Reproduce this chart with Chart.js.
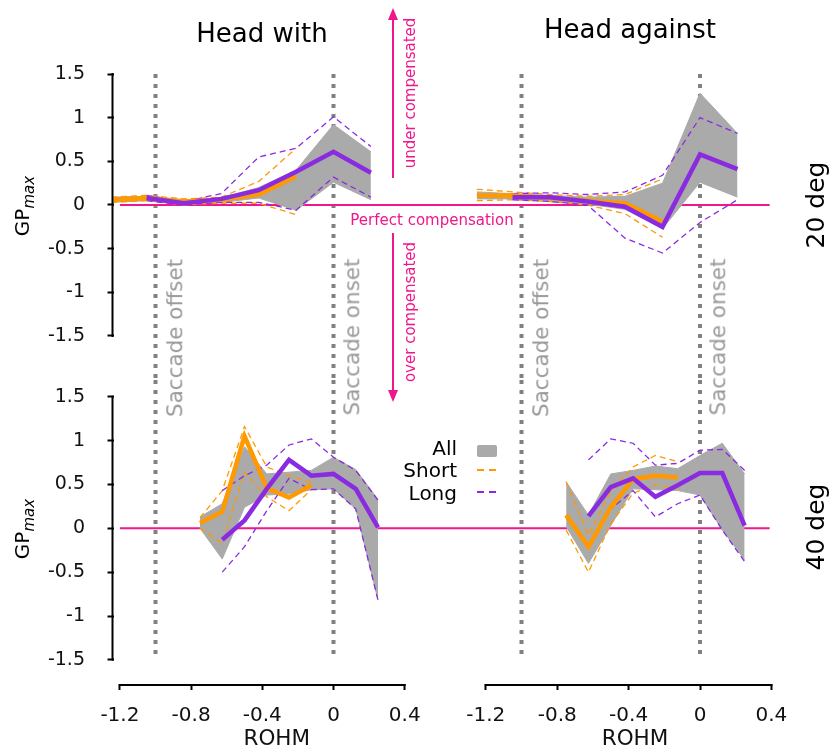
<!DOCTYPE html>
<html>
<head>
<meta charset="utf-8">
<script src="https://cdn.jsdelivr.net/npm/chart.js@4.4.0/dist/chart.umd.min.js"></script>
<style>
  body { margin: 0; background: #fff; }
  #fig { position: relative; width: 830px; height: 750px; font-family: "DejaVu Sans", sans-serif; color: #000; overflow: hidden; }
  #fig canvas { position: absolute; left: 0; top: 0; }
  .lbl { position: absolute; white-space: nowrap; line-height: 1; transform: translate(-50%, -50%); }
  .rot { transform: translate(-50%, -50%) rotate(-90deg); }
  .sac { color: #999; font-size: 21.5px; }
  .pink { color: #f0168c; font-size: 15px; }
  .leg { position: absolute; right: 373px; font-size: 20px; line-height: 20px; }
  .sw { position: absolute; left: 477px; width: 20px; }
</style>
</head>
<body>
<div id="fig">
  <canvas id="hw20" width="830" height="750"></canvas>
  <canvas id="ha20" width="830" height="750"></canvas>
  <canvas id="hw40" width="830" height="750"></canvas>
  <canvas id="ha40" width="830" height="750"></canvas>

  <div class="lbl" style="left:262px;top:33px;font-size:26px">Head with</div>
  <div class="lbl" style="left:630px;top:29px;font-size:26px">Head against</div>

  <div class="lbl rot" style="left:24px;top:206px;font-size:20px">GP<sub style="font-size:15px;font-style:italic">max</sub></div>
  <div class="lbl rot" style="left:24px;top:529px;font-size:20px">GP<sub style="font-size:15px;font-style:italic">max</sub></div>
  <div class="lbl rot" style="left:815px;top:205px;font-size:25px">20 deg</div>
  <div class="lbl rot" style="left:815px;top:527px;font-size:25px">40 deg</div>

  <div class="lbl rot sac" style="left:175px;top:338px">Saccade offset</div>
  <div class="lbl rot sac" style="left:352px;top:337px">Saccade onset</div>
  <div class="lbl rot sac" style="left:541px;top:338px">Saccade offset</div>
  <div class="lbl rot sac" style="left:718px;top:337px">Saccade onset</div>

  <div class="lbl pink" style="left:432px;top:220px">Perfect compensation</div>
  <div class="lbl rot pink" style="left:410px;top:93px">under compensated</div>
  <div class="lbl rot pink" style="left:410px;top:312px">over compensated</div>

  <div class="leg" style="top:438px">All</div>
  <div class="leg" style="top:460px">Short</div>
  <div class="leg" style="top:483px">Long</div>
  <div class="sw" style="top:445px;height:12px;background:#aaaaaa;border-radius:2px"></div>
  <div class="sw" style="top:469px;height:1.5px;background:repeating-linear-gradient(90deg,#ff9900 0 7px,transparent 7px 12px)"></div>
  <div class="sw" style="top:491px;height:1.5px;background:repeating-linear-gradient(90deg,#8a2be2 0 7px,transparent 7px 12px)"></div>
</div>

<script>
const GRAY = '#aaaaaa', ORANGE = '#ff9900', PURPLE = '#8a2be2', PINK = '#f0168c', DOT = '#808080';

const yTicks = [-1.5, -1, -0.5, 0, 0.5, 1, 1.5];
const xTicks = [-1.2, -0.8, -0.4, 0, 0.4];
const saccadeX = [-1, 0];

// bin centres (ROHM)
const xShort20 = [-1.25, -1.05, -0.84, -0.63, -0.42, -0.21];
const xLong20 = [-1.05, -0.84, -0.63, -0.42, -0.21, 0, 0.21];
const xAll20 = [-1.25, -1.05, -0.84, -0.63, -0.42, -0.21, 0, 0.21];
const xShort40 = [-0.75, -0.625, -0.5, -0.375, -0.25, -0.125];
const xLong40 = [-0.625, -0.5, -0.375, -0.25, -0.125, 0, 0.125, 0.25];
const xAll40 = [-0.75, -0.625, -0.5, -0.375, -0.25, -0.125, 0, 0.125, 0.25];

// head with, 20 deg
const hw20Short = [0.06, 0.08, 0.04, 0.06, 0.12, 0.33];
const hw20ShortHi = [0.09, 0.11, 0.07, 0.09, 0.27, 0.65];
const hw20ShortLo = [0.03, 0.05, 0.01, 0.02, 0.02, -0.11];
const hw20Long = [0.08, 0.02, 0.07, 0.17, 0.38, 0.61, 0.37];
const hw20LongHi = [0.11, 0.04, 0.13, 0.55, 0.65, 1.01, 0.67];
const hw20LongLo = [0.05, 0.0, 0.03, 0.03, -0.06, 0.32, 0.09];
const hw20AllHi = [0.09, 0.1, 0.06, 0.08, 0.2, 0.4, 0.92, 0.61];
const hw20AllLo = [0.03, 0.05, 0.0, 0.03, 0.08, -0.06, 0.26, 0.06];

// head against, 20 deg
const ha20Short = [0.11, 0.11, 0.08, 0.05, 0.02, -0.19];
const ha20ShortHi = [0.18, 0.15, 0.12, 0.1, 0.12, 0.3];
const ha20ShortLo = [0.05, 0.06, 0.04, 0.0, -0.1, -0.37];
const ha20Long = [0.09, 0.09, 0.04, -0.02, -0.25, 0.58, 0.41];
const ha20LongHi = [0.13, 0.14, 0.12, 0.15, 0.34, 1.0, 0.82];
const ha20LongLo = [0.06, 0.04, 0.0, -0.38, -0.55, -0.2, 0.06];
const ha20AllHi = [0.15, 0.13, 0.11, 0.09, 0.1, 0.25, 1.28, 0.82];
const ha20AllLo = [0.07, 0.07, 0.05, 0.01, -0.05, -0.27, 0.26, 0.09];

// head with, 40 deg
const hw40Short = [0.06, 0.19, 1.05, 0.46, 0.35, 0.49];
const hw40ShortHi = [0.12, 0.43, 1.16, 0.7, 0.6, 0.52];
const hw40ShortLo = [0.0, -0.17, 0.64, 0.36, 0.2, 0.44];
const hw40Long = [-0.13, 0.09, 0.45, 0.78, 0.6, 0.62, 0.45, 0.01];
const hw40LongHi = [0.43, 0.6, 0.72, 0.95, 1.02, 0.81, 0.66, 0.32];
const hw40LongLo = [-0.5, -0.21, 0.2, 0.57, 0.44, 0.45, 0.22, -0.82];
const hw40AllHi = [0.13, 0.28, 0.93, 0.62, 0.64, 0.66, 0.81, 0.67, 0.33];
const hw40AllLo = [0.0, -0.35, 0.24, 0.38, 0.39, 0.44, 0.45, 0.22, -0.82];

// head against, 40 deg
const ha40Short = [0.15, -0.21, 0.24, 0.56, 0.6, 0.58];
const ha40ShortHi = [0.53, -0.08, 0.42, 0.7, 0.83, 0.76];
const ha40ShortLo = [-0.02, -0.5, 0.05, 0.4, 0.5, 0.45];
const ha40Long = [0.14, 0.47, 0.57, 0.36, 0.49, 0.63, 0.63, 0.03];
const ha40LongHi = [0.78, 1.02, 0.97, 0.72, 0.74, 0.89, 0.9, 0.66];
const ha40LongLo = [-0.2, 0.22, 0.43, 0.13, 0.28, 0.38, -0.02, -0.38];
const ha40AllHi = [0.53, 0.15, 0.62, 0.66, 0.71, 0.68, 0.83, 0.97, 0.62];
const ha40AllLo = [0.02, -0.4, 0.03, 0.45, 0.44, 0.43, 0.38, -0.02, -0.36];

// zero line extents
const zeroFromLeft = -1.2;
const zeroToRight = 0.39;

// panel geometry (pixels): x0 = pixel of ROHM 0, ux = px per unit
const COL_L = { x0: 333.5, ux: 178, left: 113.5, right: 440 };
const COL_R = { x0: 700, ux: 178.5, left: 440, right: 830 };
const ROW_T = { y0: 205, uy: 87.33, top: 74, bottom: 380, first: true };
const ROW_B = { y0: 528.3, uy: 87.7, top: 380, bottom: 684, first: false };
const Y_AXIS_W = 113.5, X_AXIS_H = 66;
const ARROWS = [[393, 178, 8], [393, 233, 402]];

const pts = (xs, ys) => xs.map((x, i) => ({ x: x, y: ys[i] }));

function line(data, color, width, dash, order) {
  return { data, borderColor: color, borderWidth: width, borderDash: dash, pointRadius: 0,
    fill: false, tension: 0, order, borderCapStyle: 'butt' };
}

const spines = {
  id: 'spines',
  afterDraw(chart, args, o) {
    const { ctx, chartArea: a, scales: { x, y } } = chart;
    ctx.save();
    ctx.strokeStyle = '#000';
    ctx.lineWidth = 2;
    if (o.y) {
      ctx.beginPath();
      ctx.moveTo(a.left - 1, y.getPixelForValue(1.5) - 1);
      ctx.lineTo(a.left - 1, y.getPixelForValue(-1.5) + 1);
      ctx.stroke();
    }
    if (o.x) {
      ctx.beginPath();
      ctx.moveTo(x.getPixelForValue(-1.2) - 1, a.bottom + 1);
      ctx.lineTo(x.getPixelForValue(0.4) + 1, a.bottom + 1);
      ctx.stroke();
    }
    ctx.restore();
  }
};

const arrows = {
  id: 'arrows',
  afterDraw(chart) {
    const ctx = chart.ctx;
    ctx.save();
    ctx.strokeStyle = PINK;
    ctx.fillStyle = PINK;
    ctx.lineWidth = 2;
    ARROWS.forEach(([x, y1, y2]) => {
      const dir = Math.sign(y2 - y1);
      ctx.beginPath(); ctx.moveTo(x, y1); ctx.lineTo(x, y2 - dir * 10); ctx.stroke();
      ctx.beginPath(); ctx.moveTo(x, y2); ctx.lineTo(x - 5, y2 - dir * 12); ctx.lineTo(x + 5, y2 - dir * 12);
      ctx.closePath(); ctx.fill();
    });
    ctx.restore();
  }
};

function makePanel(id, col, row, g, showY, showX, extra) {
  const xmin = (col.left - col.x0) / col.ux, xmax = (col.right - col.x0) / col.ux;
  const ymax = (row.y0 - row.top) / row.uy, ymin = (row.y0 - row.bottom) / row.uy;
  const zero = col === COL_L ? [zeroFromLeft, xmax] : [xmin, zeroToRight];
  const dotSpan = row.first ? [1.5, ymin] : [ymax, -1.5];

  const datasets = [
    { data: pts(g.xAll, g.allHi), borderColor: GRAY, borderWidth: 1, pointRadius: 0, fill: '+1', backgroundColor: GRAY, order: 10 },
    { data: pts(g.xAll, g.allLo), borderColor: GRAY, borderWidth: 1, pointRadius: 0, fill: false, order: 10 },
    line(pts(g.xShort, g.shortHi), ORANGE, 1.3, [6, 4], 5),
    line(pts(g.xShort, g.shortLo), ORANGE, 1.3, [6, 4], 5),
    line(pts(g.xLong, g.longHi), PURPLE, 1.3, [6, 4], 4),
    line(pts(g.xLong, g.longLo), PURPLE, 1.3, [6, 4], 4),
    line(pts(g.xShort, g.short), ORANGE, 4.5, [], 2),
    line(pts(g.xLong, g.long), PURPLE, 4.5, [], 1),
    line(zero.map(x => ({ x, y: 0 })), PINK, 2, [], 20),
  ];
  saccadeX.forEach(sx => datasets.push(line(dotSpan.map(y => ({ x: sx, y })), DOT, 4, [4, 6], 30)));

  new Chart(document.getElementById(id), {
    type: 'line',
    data: { datasets },
    plugins: [spines].concat(extra || []),
    options: {
      responsive: false,
      animation: false,
      events: [],
      layout: { padding: {
        left: col.left - (showY ? Y_AXIS_W : 0),
        right: 830 - col.right,
        top: row.top,
        bottom: 750 - row.bottom - (showX ? X_AXIS_H : 0)
      } },
      plugins: { legend: { display: false }, tooltip: { enabled: false }, spines: { x: showX, y: showY } },
      scales: {
        x: {
          type: 'linear', min: xmin, max: xmax, display: showX,
          afterFit: s => { if (showX) s.height = X_AXIS_H; },
          afterBuildTicks: s => { s.ticks = xTicks.map(v => ({ value: v })); },
          border: { display: false },
          grid: { drawOnChartArea: false, drawTicks: true, tickLength: 6, tickColor: '#000', tickWidth: 2 },
          ticks: { autoSkip: false, maxRotation: 0, padding: 14, color: '#111',
            font: { family: 'DejaVu Sans', size: 20 }, callback: v => String(v) },
          title: { display: true, text: 'ROHM', color: '#111', font: { family: 'DejaVu Sans', size: 21.5, lineHeight: 1 }, padding: 0 }
        },
        y: {
          type: 'linear', min: ymin, max: ymax, display: showY,
          afterFit: s => { if (showY) s.width = Y_AXIS_W; },
          afterBuildTicks: s => { s.ticks = yTicks.map(v => ({ value: v })); },
          border: { display: false },
          grid: { drawOnChartArea: false, drawTicks: true, tickLength: 6, tickColor: '#000', tickWidth: 2 },
          ticks: { autoSkip: false, padding: 22.5, color: '#111',
            font: { family: 'DejaVu Sans', size: 19 }, callback: v => String(v) }
        }
      }
    }
  });
}

makePanel('hw20', COL_L, ROW_T, {
  xShort: xShort20, short: hw20Short, shortHi: hw20ShortHi, shortLo: hw20ShortLo,
  xLong: xLong20, long: hw20Long, longHi: hw20LongHi, longLo: hw20LongLo,
  xAll: xAll20, allHi: hw20AllHi, allLo: hw20AllLo
}, true, false, [arrows]);

makePanel('ha20', COL_R, ROW_T, {
  xShort: xShort20, short: ha20Short, shortHi: ha20ShortHi, shortLo: ha20ShortLo,
  xLong: xLong20, long: ha20Long, longHi: ha20LongHi, longLo: ha20LongLo,
  xAll: xAll20, allHi: ha20AllHi, allLo: ha20AllLo
}, false, false);

makePanel('hw40', COL_L, ROW_B, {
  xShort: xShort40, short: hw40Short, shortHi: hw40ShortHi, shortLo: hw40ShortLo,
  xLong: xLong40, long: hw40Long, longHi: hw40LongHi, longLo: hw40LongLo,
  xAll: xAll40, allHi: hw40AllHi, allLo: hw40AllLo
}, true, true);

makePanel('ha40', COL_R, ROW_B, {
  xShort: xShort40, short: ha40Short, shortHi: ha40ShortHi, shortLo: ha40ShortLo,
  xLong: xLong40, long: ha40Long, longHi: ha40LongHi, longLo: ha40LongLo,
  xAll: xAll40, allHi: ha40AllHi, allLo: ha40AllLo
}, false, true);
</script>
</body>
</html>
